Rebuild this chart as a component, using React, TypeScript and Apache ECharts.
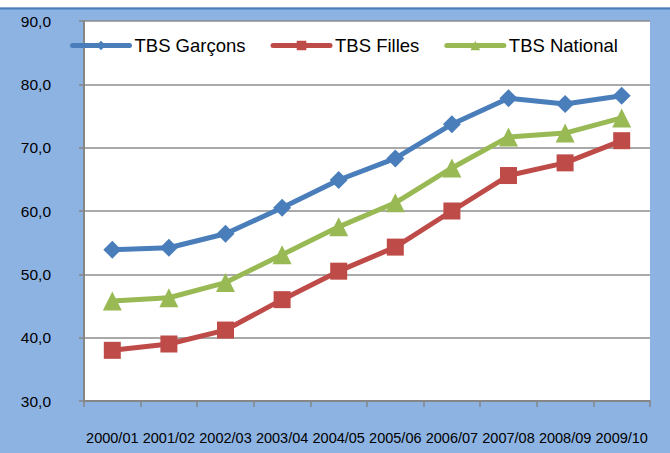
import React, { useEffect, useRef } from "react";
import * as echarts from "echarts";

const categories = ["2000/01", "2001/02", "2002/03", "2003/04", "2004/05", "2005/06", "2006/07", "2007/08", "2008/09", "2009/10"];
const garcons = [53.9, 54.2, 56.4, 60.5, 64.9, 68.3, 73.7, 77.8, 76.9, 78.2];
const filles = [38.0, 39.0, 41.2, 46.0, 50.5, 54.3, 60.0, 65.6, 67.6, 71.1];
const national = [45.8, 46.3, 48.7, 53.1, 57.5, 61.3, 66.8, 71.7, 72.3, 74.7];
const seriesNames = ["TBS Garçons", "TBS Filles", "TBS National"];

const FONT = "'Liberation Sans', Arial, sans-serif";

export default function App() {
  const ref = useRef<HTMLDivElement>(null);
  useEffect(() => {
    if (!ref.current) return;
    const chart = echarts.init(ref.current, null, { renderer: "svg" });
    const mk = (name: string, data: number[], color: string, symbol: string, size: number) => ({
      name,
      type: "line",
      data,
      symbol,
      symbolSize: size,
      lineStyle: { color, width: 5 },
      itemStyle: { color },
      z: 3,
    });
    chart.setOption({
      animation: false,
      backgroundColor: "#8DB3E2",
      textStyle: { fontFamily: FONT },
      graphic: [
        { type: "rect", shape: { x: 0, y: 0, width: 670, height: 7.5 }, style: { fill: "#ffffff" }, silent: true },
        { type: "rect", shape: { x: 0, y: 7.5, width: 670, height: 2 }, style: { fill: "#4A7EBB" }, silent: true },
      ],
      grid: {
        left: 84,
        right: 20,
        top: 21,
        bottom: 52,
        show: true,
        backgroundColor: "#ffffff",
        borderWidth: 0,
      },
      legend: {
        data: seriesNames,
        left: 65,
        top: 31,
        itemWidth: 57,
        itemHeight: 12,
        itemGap: 25,
        lineStyle: { width: 5, cap: "round" },
        textStyle: { fontFamily: FONT, fontSize: 18.5, color: "#000" },
      },
      xAxis: {
        type: "category",
        data: categories,
        boundaryGap: true,
        axisLine: { show: true, lineStyle: { color: "#868686", width: 2 } },
        axisTick: { show: true, length: 6, lineStyle: { color: "#868686", width: 1.5 } },
        axisLabel: { interval: 0, margin: 29, color: "#000", fontSize: 14.5, fontFamily: FONT },
        splitLine: { show: false },
      },
      yAxis: {
        type: "value",
        min: 30,
        max: 90,
        interval: 10,
        axisLine: { show: true, lineStyle: { color: "#868686", width: 2 } },
        axisTick: { show: true, length: 5, lineStyle: { color: "#868686", width: 1.5 } },
        axisLabel: {
          margin: 33,
          color: "#000",
          fontSize: 15.5,
          fontFamily: FONT,
          formatter: (v: number) => v.toFixed(1).replace(".", ","),
        },
        splitLine: { show: true, lineStyle: { color: "#8C8C8C", width: 1.5 } },
      },
      series: [
        mk(seriesNames[0], garcons, "#4A7EBB", "diamond", 18),
        mk(seriesNames[1], filles, "#BE4B48", "rect", 17),
        mk(seriesNames[2], national, "#98B954", "triangle", 19),
      ],
    });
    return () => chart.dispose();
  }, []);
  return (
    <div
      ref={ref}
      style={{ position: "fixed", left: 0, top: 0, width: 670, height: 453 }}
    />
  );
}
